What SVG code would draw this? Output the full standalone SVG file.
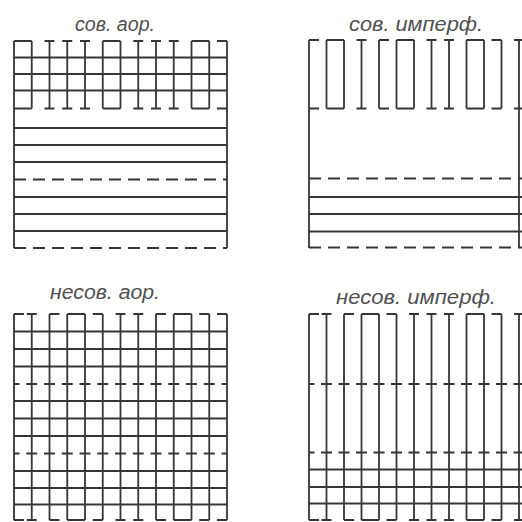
<svg xmlns="http://www.w3.org/2000/svg" width="522" height="522" viewBox="0 0 522 522">
<style>
.ln{stroke:#363636;stroke-width:1.8;fill:none;stroke-linecap:butt}
.dl{stroke:#363636;stroke-width:2;fill:none;stroke-dasharray:12 7}
.dgl{stroke:#363636;stroke-width:1.9;fill:none;stroke-dasharray:11 6.75;stroke-dashoffset:5.5}
.dgr{stroke:#363636;stroke-width:1.9;fill:none;stroke-dasharray:11 6.5;stroke-dashoffset:5.5}
.t{font-family:"Liberation Sans",Arial,sans-serif;font-style:italic;font-size:20px;fill:#505050}
</style>
<rect width="522" height="522" fill="#ffffff"/>

<g id="panel-sov-aor">
<text class="t" x="75" y="31" textLength="80" lengthAdjust="spacingAndGlyphs">сов. аор.</text>
<path class="ln" d="M14 41V248M227 41V248"/>
<path class="ln" d="M31.75 41V108.5M49.5 41V108.5M67.25 41V108.5M85 41V108.5M102.75 41V108.5M120.5 41V108.5M138.25 41V108.5M156 41V108.5M173.75 41V108.5M191.5 41V108.5M209.25 41V108.5"/>
<path class="ln" d="M14 41H24M21.75 41H31.75M44.5 41H54.5M62.25 41H72.25M80 41H90M102.75 41H112.75M110.5 41H120.5M133.25 41H143.25M151 41H161M168.75 41H178.75M191.5 41H201.5M199.25 41H209.25M217 41H227"/>
<path class="ln" d="M14 108.5H24M21.75 108.5H31.75M44.5 108.5H54.5M62.25 108.5H72.25M80 108.5H90M102.75 108.5H112.75M110.5 108.5H120.5M133.25 108.5H143.25M151 108.5H161M168.75 108.5H178.75M191.5 108.5H201.5M199.25 108.5H209.25M217 108.5H227"/>
<path class="ln" d="M14 57.5H227M14 74H227M14 90.5H227M14 128H227M14 145H227M14 162H227M14 197H227M14 214H227M14 231H227"/>
<path class="dl" d="M14 179.5H227M14 248H227"/>
</g>

<g id="panel-sov-imperf">
<text class="t" x="349" y="31" textLength="134" lengthAdjust="spacingAndGlyphs">сов. имперф.</text>
<path class="ln" d="M309 40V248M519 40V248"/>
<path class="ln" d="M326.5 40V108.5M344 40V108.5M361.5 40V108.5M379 40V108.5M396.5 40V108.5M414 40V108.5M431.5 40V108.5M449 40V108.5M466.5 40V108.5M484 40V108.5M501.5 40V108.5"/>
<path class="ln" d="M309 40H319M326.5 40H336.5M334 40H344M356.5 40H366.5M379 40H389M396.5 40H406.5M404 40H414M426.5 40H436.5M444 40H454M466.5 40H476.5M474 40H484M491.5 40H501.5M514 40H524"/>
<path class="ln" d="M309 108.5H319M326.5 108.5H336.5M334 108.5H344M356.5 108.5H366.5M379 108.5H389M396.5 108.5H406.5M404 108.5H414M426.5 108.5H436.5M444 108.5H454M466.5 108.5H476.5M474 108.5H484M491.5 108.5H501.5M514 108.5H524"/>
<path class="ln" d="M309 197H522M309 214H522M309 231.5H522"/>
<path class="dl" d="M309 178.5H522M309 247.5H522"/>
</g>

<g id="panel-nesov-aor">
<text class="t" x="50" y="299" textLength="110" lengthAdjust="spacingAndGlyphs">несов. аор.</text>
<path class="ln" d="M14 314V520M31.75 314V520M49.5 314V520M67.25 314V520M85 314V520M102.75 314V520M120.5 314V520M138.25 314V520M156 314V520M173.75 314V520M191.5 314V520M209.25 314V520M227 314V520"/>
<path class="ln" d="M14 314H24M26.75 314H36.75M49.5 314H59.5M67.25 314H77.25M75 314H85M92.75 314H102.75M115.5 314H125.5M133.25 314H143.25M156 314H166M173.75 314H183.75M181.5 314H191.5M199.25 314H209.25M217 314H227"/>
<path class="ln" d="M14 520H24M26.75 520H36.75M49.5 520H59.5M67.25 520H77.25M75 520H85M92.75 520H102.75M115.5 520H125.5M133.25 520H143.25M156 520H166M173.75 520H183.75M181.5 520H191.5M199.25 520H209.25M217 520H227"/>
<path class="ln" d="M14 331.5H227M14 349H227M14 366.5H227M14 401H227M14 418.5H227M14 436H227M14 471H227M14 488H227M14 504.5H227"/>
<path class="dgl" d="M14 384H227M14 453.5H227"/>
</g>

<g id="panel-nesov-imperf">
<text class="t" x="336" y="304" textLength="160" lengthAdjust="spacingAndGlyphs">несов. имперф.</text>
<path class="ln" d="M309 314V520M326.5 314V520M344 314V520M361.5 314V520M379 314V520M396.5 314V520M414 314V520M431.5 314V520M449 314V520M466.5 314V520M484 314V520M501.5 314V520M519 314V520"/>
<path class="ln" d="M309 314H319M321.5 314H331.5M344 314H354M361.5 314H371.5M369 314H379M386.5 314H396.5M409 314H419M426.5 314H436.5M444 314H454M466.5 314H476.5M474 314H484M491.5 314H501.5M514 314H524"/>
<path class="ln" d="M309 520H319M321.5 520H331.5M344 520H354M361.5 520H371.5M369 520H379M386.5 520H396.5M409 520H419M426.5 520H436.5M444 520H454M466.5 520H476.5M474 520H484M491.5 520H501.5M514 520H524"/>
<path class="ln" d="M309 469.5H522M309 487H522M309 503.5H522"/>
<path class="dgr" d="M309 384H522M309 452.5H522"/>
</g>
</svg>
